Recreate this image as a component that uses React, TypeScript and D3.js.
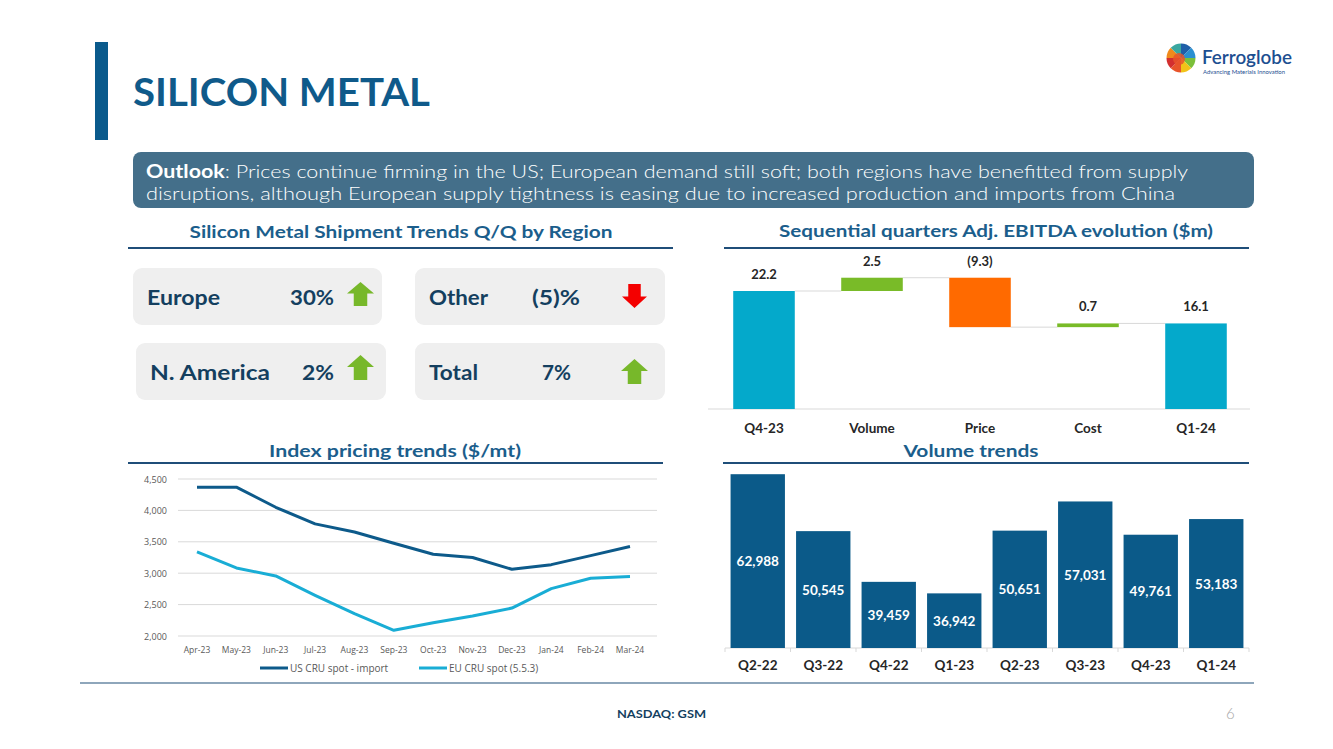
import React, { useEffect, useRef } from 'react';
import * as d3 from 'd3';

// shipment tiles
const shipmentRegions = ['Europe', 'Other', 'N. America', 'Total'];
const shipmentChanges = ['30%', '(5)%', '2%', '7%'];
const shipmentUp = [true, false, true, true];

// EBITDA bridge ($m)
const bridgeSteps = ['Q4-23', 'Volume', 'Price', 'Cost', 'Q1-24'];
const bridgeValues = [22.2, 2.5, -9.3, 0.7, 16.1];
const bridgeLabels = ['22.2', '2.5', '(9.3)', '0.7', '16.1'];

// index pricing ($/mt)
const priceMonths = ['Apr-23', 'May-23', 'Jun-23', 'Jul-23', 'Aug-23', 'Sep-23', 'Oct-23', 'Nov-23', 'Dec-23', 'Jan-24', 'Feb-24', 'Mar-24'];
const usCruSpot = [4370, 4370, 4050, 3785, 3655, 3478, 3302, 3250, 3062, 3136, 3280, 3424];
const euCruSpot = [3340, 3084, 2956, 2648, 2355, 2090, 2210, 2317, 2445, 2754, 2920, 2946];
const priceTicks = [2000, 2500, 3000, 3500, 4000, 4500];

// volume (mt)
const volumeQuarters = ['Q2-22', 'Q3-22', 'Q4-22', 'Q1-23', 'Q2-23', 'Q3-23', 'Q4-23', 'Q1-24'];
const volumeValues = [62988, 50545, 39459, 36942, 50651, 57031, 49761, 53183];

const NAVY = '#143f5f';
const BLUE = '#0f5a8a';
const RULE = '#1f4e79';
const FONT = 'Lato, "Open Sans", sans-serif';

const App: React.FC = () => {
    const svgRef = useRef<SVGSVGElement | null>(null);

    useEffect(() => {
        if (!svgRef.current) return;
        const svg = d3.select(svgRef.current);
        svg.selectAll('*').remove();
        svg.style('font-family', FONT);

        // ---------- header ----------
        svg.append('rect').attr('x', 95).attr('y', 42).attr('width', 13).attr('height', 98).attr('fill', '#0a5a8c');
        svg.append('text').attr('x', 133).attr('y', 106)
            .attr('font-size', 38).attr('font-weight', 700).attr('fill', BLUE)
            .attr('textLength', 297).attr('lengthAdjust', 'spacingAndGlyphs')
            .text('SILICON METAL');

        // logo
        const logo = svg.append('g').attr('transform', 'translate(1181,58)');
        const logoColors = ['#1f5fa8', '#2a8fd0', '#7bbf3a', '#f2c318', '#e8542a', '#d32f2f', '#f08a1c', '#3aa7a0'];
        const pie = d3.pie<string>().value(() => 1).sort(null);
        const arc = d3.arc<d3.PieArcDatum<string>>().innerRadius(0).outerRadius(14.5);
        logo.selectAll('path').data(pie(logoColors)).enter().append('path')
            .attr('d', arc).attr('fill', (d) => d.data);
        logo.append('circle').attr('r', 6).attr('cx', -2).attr('cy', 1).attr('fill', '#e8542a').attr('opacity', 0.85);
        svg.append('text').attr('x', 1202).attr('y', 64).attr('font-size', 19).attr('font-weight', 600)
            .attr('fill', '#1d4f91').attr('textLength', 90).attr('lengthAdjust', 'spacingAndGlyphs').text('Ferroglobe');
        svg.append('text').attr('x', 1203).attr('y', 74).attr('font-size', 5.5).attr('fill', '#1d4f91')
            .attr('textLength', 82).attr('lengthAdjust', 'spacingAndGlyphs').text('Advancing Materials Innovation');

        // outlook box
        svg.append('rect').attr('x', 133).attr('y', 152).attr('width', 1121).attr('height', 56)
            .attr('rx', 8).attr('fill', '#446f8a');
        const l1 = svg.append('text').attr('x', 146).attr('y', 178).attr('font-size', 18).attr('fill', '#fff')
            .attr('textLength', 1042).attr('lengthAdjust', 'spacingAndGlyphs');
        l1.append('tspan').attr('font-weight', 700).text('Outlook');
        l1.append('tspan').attr('font-weight', 300).text(': Prices continue firming in the US; European demand still soft; both regions have benefitted from supply');
        svg.append('text').attr('x', 146).attr('y', 200).attr('font-size', 18).attr('font-weight', 300).attr('fill', '#fff')
            .attr('textLength', 1029).attr('lengthAdjust', 'spacingAndGlyphs')
            .text('disruptions, although European supply tightness is easing due to increased production and imports from China');

        // section titles
        const sectionTitle = (label: string, cx: number, y: number, w: number, x1: number, x2: number, ly: number) => {
            svg.append('text').attr('x', cx).attr('y', y).attr('text-anchor', 'middle')
                .attr('font-size', 17).attr('font-weight', 700).attr('fill', '#1b5e8c')
                .attr('textLength', w).attr('lengthAdjust', 'spacingAndGlyphs').text(label);
            svg.append('line').attr('x1', x1).attr('x2', x2).attr('y1', ly).attr('y2', ly)
                .style('stroke', RULE).style('stroke-width', 2);
        };
        sectionTitle('Silicon Metal Shipment Trends Q/Q by Region', 401, 238, 423, 128, 673, 248);
        sectionTitle('Sequential quarters Adj. EBITDA evolution ($m)', 996, 237, 434, 724, 1249, 248);
        sectionTitle('Index pricing trends ($/mt)', 395, 457, 252, 128, 663, 463);
        sectionTitle('Volume trends', 971, 457, 135, 723, 1249, 463);

        // ---------- shipment tiles ----------
        const tiles = [
            { x: 133, y: 268, w: 249, h: 57, lx: 147, lw: 73, vx: 290, vw: 44, ax: 360.5, at: 282, aw: 27, ah: 24, by: 305 },
            { x: 415, y: 268, w: 250, h: 57, lx: 429, lw: 59, vx: 532, vw: 48, ax: 634.5, at: 284, aw: 25, ah: 24, by: 305 },
            { x: 136, y: 343, w: 250, h: 57, lx: 150, lw: 120, vx: 302, vw: 32, ax: 360.5, at: 355, aw: 27, ah: 25, by: 380 },
            { x: 415, y: 343, w: 250, h: 57, lx: 429, lw: 49, vx: 542, vw: 29, ax: 634.5, at: 359, aw: 27, ah: 25, by: 380 },
        ];
        const arrowPath = (cx: number, top: number, w: number, h: number, up: boolean) => {
            const hh = h * 0.48, sw = w * 0.5;
            const p = up
                ? [[cx, top], [cx + w / 2, top + hh], [cx + sw / 2, top + hh], [cx + sw / 2, top + h], [cx - sw / 2, top + h], [cx - sw / 2, top + hh], [cx - w / 2, top + hh]]
                : [[cx - sw / 2, top], [cx + sw / 2, top], [cx + sw / 2, top + h - hh], [cx + w / 2, top + h - hh], [cx, top + h], [cx - w / 2, top + h - hh], [cx - sw / 2, top + h - hh]];
            return d3.line()(p as [number, number][]) + 'Z';
        };
        tiles.forEach((t, i) => {
            svg.append('rect').attr('x', t.x).attr('y', t.y).attr('width', t.w).attr('height', t.h)
                .attr('rx', 9).attr('fill', '#efefef');
            svg.append('text').attr('x', t.lx).attr('y', t.by).attr('font-size', 21).attr('font-weight', 700)
                .attr('fill', NAVY).attr('textLength', t.lw).attr('lengthAdjust', 'spacingAndGlyphs')
                .text(shipmentRegions[i]);
            svg.append('text').attr('x', t.vx).attr('y', t.by).attr('font-size', 21)
                .attr('font-weight', 700).attr('fill', NAVY).attr('textLength', t.vw).attr('lengthAdjust', 'spacingAndGlyphs')
                .text(shipmentChanges[i]);
            svg.append('path').attr('d', arrowPath(t.ax, t.at, t.aw, t.ah, shipmentUp[i]))
                .attr('fill', shipmentUp[i] ? '#77b82a' : '#f40000');
        });

        // ---------- EBITDA bridge ----------
        const bx = d3.scaleBand<string>().domain(bridgeSteps).range([710, 1250]).paddingInner(0.43).paddingOuter(0.215);
        const by = d3.scaleLinear().domain([0, 25]).range([409, 409 - 25 * 5.315]);
        let running = 0;
        const bars = bridgeSteps.map((s, i) => {
            const v = bridgeValues[i];
            const total = i === 0 || i === bridgeSteps.length - 1;
            const start = total ? 0 : running;
            const end = total ? v : running + v;
            running = end;
            return { s, start, end, total, v, label: bridgeLabels[i] };
        });
        svg.append('line').attr('x1', 708).attr('x2', 1250).attr('y1', 409).attr('y2', 409)
            .style('stroke', '#d9d9d9').style('stroke-width', 1);
        // connectors
        svg.selectAll('line.connector').data(bars.slice(0, -1)).enter().append('line')
            .attr('class', 'connector')
            .attr('x1', (d) => bx(d.s)! + bx.bandwidth())
            .attr('x2', (d, i) => bx(bars[i + 1].s)!)
            .attr('y1', (d) => by(d.end)).attr('y2', (d) => by(d.end))
            .style('stroke', '#d9d9d9').style('stroke-width', 1);
        svg.selectAll('rect.bridge').data(bars).enter().append('rect')
            .attr('class', 'bridge')
            .attr('x', (d) => bx(d.s)!)
            .attr('width', bx.bandwidth())
            .attr('y', (d) => by(Math.max(d.start, d.end)))
            .attr('height', (d) => Math.abs(by(d.start) - by(d.end)))
            .style('fill', (d) => (d.total ? '#04a9cb' : d.v >= 0 ? '#79bb28' : '#ff6a00'));
        svg.selectAll('text.bridgeLabel').data(bars).enter().append('text')
            .attr('class', 'bridgeLabel')
            .attr('x', (d) => bx(d.s)! + bx.bandwidth() / 2)
            .attr('y', (d) => by(Math.max(d.start, d.end)) - 12)
            .attr('text-anchor', 'middle').attr('font-size', 13).attr('font-weight', 700).attr('fill', '#262626')
            .text((d) => d.label);
        svg.selectAll('text.bridgeAxis').data(bridgeSteps).enter().append('text')
            .attr('class', 'bridgeAxis')
            .attr('x', (d) => bx(d)! + bx.bandwidth() / 2).attr('y', 433)
            .attr('text-anchor', 'middle').attr('font-size', 13.5).attr('font-weight', 700).attr('fill', '#262626')
            .text((d) => d);

        // ---------- price line chart ----------
        const px = d3.scalePoint<string>().domain(priceMonths).range([197, 630]);
        const py = d3.scaleLinear().domain([2000, 4500]).range([636, 479]);
        svg.selectAll('line.priceGrid').data(priceTicks).enter().append('line')
            .attr('class', 'priceGrid')
            .attr('x1', 178).attr('x2', 657)
            .attr('y1', (d) => py(d)).attr('y2', (d) => py(d))
            .style('stroke', '#d9d9d9').style('stroke-width', 1);
        svg.selectAll('text.priceTick').data(priceTicks).enter().append('text')
            .attr('class', 'priceTick')
            .attr('x', 167).attr('y', (d) => py(d) + 3.5).attr('text-anchor', 'end')
            .attr('font-family', '"Open Sans", sans-serif').attr('font-size', 9).attr('fill', '#595959')
            .text((d) => d3.format(',')(d));
        svg.selectAll('text.priceMonth').data(priceMonths).enter().append('text')
            .attr('class', 'priceMonth')
            .attr('x', (d) => px(d)!).attr('y', 653).attr('text-anchor', 'middle')
            .attr('font-family', '"Open Sans", sans-serif').attr('font-size', 8.5).attr('fill', '#595959')
            .text((d) => d);
        const priceLine = d3.line<number>().x((d, i) => px(priceMonths[i])!).y((d) => py(d));
        const series = [
            { values: usCruSpot, color: '#0d5a8a', name: 'US CRU spot - import', lx: 260 },
            { values: euCruSpot, color: '#19add5', name: 'EU CRU spot (5.5.3)', lx: 419 },
        ];
        series.forEach((s) => {
            svg.append('path').attr('d', priceLine(s.values)!).attr('fill', 'none')
                .style('stroke', s.color).style('stroke-width', 3).style('stroke-linejoin', 'round');
            svg.append('line').attr('x1', s.lx).attr('x2', s.lx + 28).attr('y1', 668).attr('y2', 668)
                .style('stroke', s.color).style('stroke-width', 3);
            svg.append('text').attr('x', s.lx + 30).attr('y', 672)
                .attr('font-family', '"Open Sans", sans-serif').attr('font-size', 10).attr('fill', '#595959')
                .text(s.name);
        });

        // ---------- volume bars ----------
        const vx = d3.scaleBand<string>().domain(volumeQuarters).range([725, 1249]).paddingInner(0.17).paddingOuter(0.085);
        const vy = d3.scaleLinear().domain([25000, 65000]).range([648, 465]);
        svg.append('line').attr('x1', 725).attr('x2', 1249).attr('y1', 648).attr('y2', 648)
            .style('stroke', '#d9d9d9').style('stroke-width', 1);
        const step = vx.step();
        svg.selectAll('line.volTick').data(d3.range(volumeQuarters.length + 1)).enter().append('line')
            .attr('class', 'volTick')
            .attr('x1', (d) => 725 + d * step).attr('x2', (d) => 725 + d * step)
            .attr('y1', 648).attr('y2', 652)
            .style('stroke', '#d9d9d9').style('stroke-width', 1);
        svg.selectAll('rect.volBar').data(volumeValues).enter().append('rect')
            .attr('class', 'volBar')
            .attr('x', (d, i) => vx(volumeQuarters[i])!)
            .attr('width', vx.bandwidth())
            .attr('y', (d) => vy(d))
            .attr('height', (d) => 648 - vy(d))
            .style('fill', '#0b5a89');
        svg.selectAll('text.volLabel').data(volumeValues).enter().append('text')
            .attr('class', 'volLabel')
            .attr('x', (d, i) => vx(volumeQuarters[i])! + vx.bandwidth() / 2)
            .attr('y', (d) => (vy(d) + 648) / 2 + 5)
            .attr('text-anchor', 'middle').attr('font-size', 13.5).attr('font-weight', 700).attr('fill', '#fff')
            .text((d) => d3.format(',')(d));
        svg.selectAll('text.volAxis').data(volumeQuarters).enter().append('text')
            .attr('class', 'volAxis')
            .attr('x', (d) => vx(d)! + vx.bandwidth() / 2).attr('y', 670)
            .attr('text-anchor', 'middle').attr('font-size', 13.5).attr('font-weight', 700).attr('fill', '#262626')
            .text((d) => d);

        // ---------- footer ----------
        svg.append('line').attr('x1', 80).attr('x2', 1254).attr('y1', 683).attr('y2', 683)
            .style('stroke', RULE).style('stroke-width', 1.2);
        svg.append('text').attr('x', 617).attr('y', 718).attr('font-size', 11).attr('font-weight', 700)
            .attr('fill', NAVY).attr('textLength', 89).attr('lengthAdjust', 'spacingAndGlyphs').text('NASDAQ: GSM');
        svg.append('text').attr('x', 1226).attr('y', 719).attr('font-size', 15).attr('font-weight', 300)
            .attr('fill', '#a6a6a6').text('6');
    }, []);

    return (
        <div style={{ position: 'fixed', left: 0, top: 0, width: 1333, height: 749, background: '#fff' }}>
            <svg ref={svgRef} width={1333} height={749}></svg>
        </div>
    );
};

export default App;
